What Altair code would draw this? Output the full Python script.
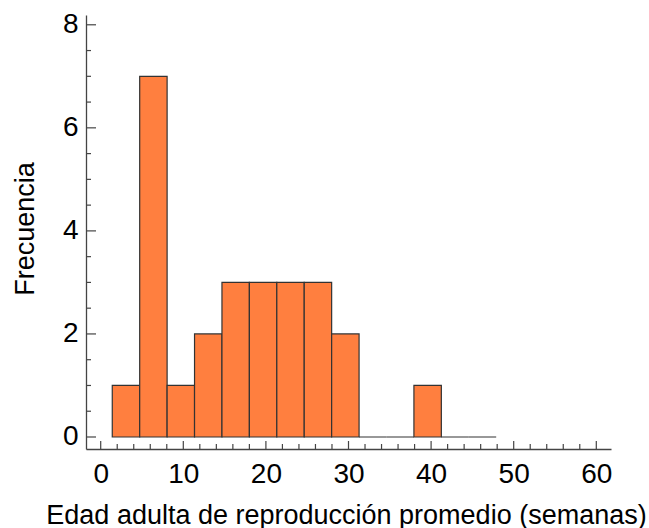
import altair as alt
import numpy as np
import pandas as pd

# Histogram bins (weeks) and their counts
bin_start = [1.40, 4.72, 8.04, 11.36, 14.68, 18.00, 21.32, 24.64, 27.96, 31.28, 34.60, 37.92, 41.24, 44.56]
bin_end = [4.72, 8.04, 11.36, 14.68, 18.00, 21.32, 24.64, 27.96, 31.28, 34.60, 37.92, 41.24, 44.56, 47.88]
counts = [1, 7, 1, 2, 3, 3, 3, 3, 2, 0, 0, 1, 0, 0]

x_major = [0, 10, 20, 30, 40, 50, 60]
x_minor = [v for v in np.arange(0, 62, 2).tolist() if v not in x_major]
y_major = [0, 2, 4, 6, 8]
y_minor = [v for v in np.arange(0, 8.5, 0.5).tolist() if v not in y_major]

FONT = "Liberation Sans"
AXIS_COLOR = "#444444"
BAR_FILL = "#FF7F3F"
BAR_STROKE = "#333333"

x_scale = alt.Scale(domain=[-1.78, 61.78], nice=False, zero=False)
y_scale = alt.Scale(domain=[-0.233, 8.19], nice=False, zero=False)

x_axis = alt.Axis(
    title="Edad adulta de reproducción promedio (semanas)",
    values=x_major, format="d", grid=False, ticks=False, tickSize=0,
    domainColor=AXIS_COLOR, domainWidth=1.3,
    labelFont=FONT, labelFontSize=28, labelColor="black", labelPadding=11,
    titleFont=FONT, titleFontSize=27, titleFontWeight="normal", titleColor="black",
    titleBaseline="alphabetic", titleX=260, titleY=74, titleAlign="center",
)
y_axis = alt.Axis(
    title="Frecuencia",
    values=y_major, format="d", grid=False, ticks=False, tickSize=0,
    domainColor=AXIS_COLOR, domainWidth=1.3,
    labelFont=FONT, labelFontSize=28, labelColor="black", labelPadding=8,
    titleFont=FONT, titleFontSize=27, titleFontWeight="normal", titleColor="black",
    titleBaseline="alphabetic", titleX=-53, titleY=213.5, titleAlign="center",
)

bars_df = pd.DataFrame({"start": bin_start, "end": bin_end, "count": counts})

bars = alt.Chart(bars_df).mark_rect(
    fill=BAR_FILL, stroke=BAR_STROKE, strokeWidth=1.2
).encode(
    x=alt.X("start:Q", scale=x_scale, axis=x_axis),
    x2="end:Q",
    y=alt.Y("count:Q", scale=y_scale, axis=y_axis),
    y2=alt.datum(0),
)

PLOT_H = 434


def y_ticks(values, length):
    return alt.Chart(pd.DataFrame({"count": values})).mark_rule(
        color=AXIS_COLOR, strokeWidth=1.2
    ).encode(
        y=alt.Y("count:Q", scale=y_scale, axis=y_axis),
        x=alt.value(0),
        x2=alt.value(length),
    )


def x_ticks(values, length):
    return alt.Chart(pd.DataFrame({"start": values})).mark_rule(
        color=AXIS_COLOR, strokeWidth=1.2
    ).encode(
        x=alt.X("start:Q", scale=x_scale, axis=x_axis),
        y=alt.value(PLOT_H),
        y2=alt.value(PLOT_H - length),
    )


chart = alt.layer(
    bars,
    y_ticks(y_major, 10),
    y_ticks(y_minor, 5),
    x_ticks(x_major, 8),
    x_ticks(x_minor, 5),
).properties(
    width=525,
    height=PLOT_H,
    autosize=alt.AutoSizeParams(type="none"),
    padding={"left": 86, "top": 15, "right": 38, "bottom": 79},
    background="white",
).configure_view(stroke=None)

chart.save("out.html", embed_options={"renderer": "svg", "actions": False})
